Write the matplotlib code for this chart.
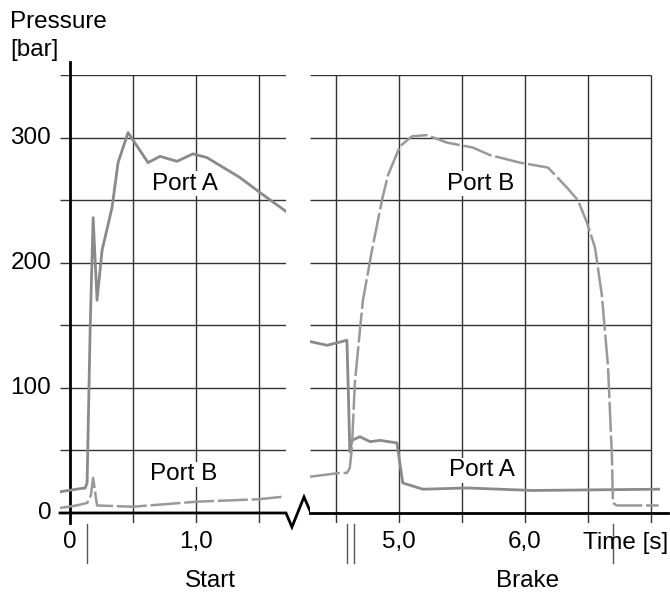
import matplotlib.pyplot as plt
from matplotlib.patches import ConnectionPatch

plt.rcParams['font.family'] = ['Liberation Sans', 'DejaVu Sans']

# start phase (left part of the broken time axis)
t_start_a = [-0.08, 0.05, 0.12, 0.135, 0.16, 0.183, 0.214, 0.254, 0.333, 0.381, 0.46,
             0.619, 0.714, 0.849, 0.976, 1.087, 1.349, 1.508, 1.714]
p_start_a = [17, 19, 20, 24, 150, 236, 170, 210, 244, 280, 304,
             280, 285, 281, 287, 284, 268, 256, 241]
t_start_b = [-0.08, 0.05, 0.135, 0.165, 0.183, 0.214, 0.5, 1.0, 1.5, 1.69]
p_start_b = [4, 6, 8, 14, 28, 6, 5, 9, 11, 13]

# brake phase (right part)
t_brake_a = [4.294, 4.43, 4.587, 4.60, 4.61, 4.627, 4.69, 4.77, 4.85, 4.984,
             5.03, 5.19, 5.54, 6.06, 7.06]
p_brake_a = [137, 134, 138, 90, 49, 58, 61, 57, 58, 56,
             24, 19, 20, 18, 19]
t_brake_b = [4.294, 4.532, 4.587, 4.61, 4.627, 4.65, 4.69, 4.714, 4.786, 4.865, 4.913,
             5.008, 5.103, 5.222, 5.381, 5.587, 5.722, 5.96, 6.183, 6.333, 6.42,
             6.492, 6.556, 6.61, 6.659, 6.69, 6.698, 6.73, 7.06]
p_brake_b = [29, 32, 32, 36, 53, 104, 146, 170, 210, 250, 270,
             293, 301, 302, 296, 292, 286, 280, 276, 260, 250,
             232, 212, 174, 117, 45, 8, 6, 6]

W, H = 670, 592
FS = 17.5
fig = plt.figure(figsize=(W / 100, H / 100), dpi=100)


def px_axes(x0, x1, y0, y1):
    return fig.add_axes([x0 / W, 1 - y1 / H, (x1 - x0) / W, (y1 - y0) / H])


ax1 = px_axes(60, 286, 75, 523)
ax2 = px_axes(310, 668, 75, 523)
ax1.set_xlim(-0.08, 1.714)
ax2.set_xlim(4.294, 7.135)

grid = '#333333'
line_a = '#8a8a8a'
line_b = '#999999'
for ax in (ax1, ax2):
    ax.set_ylim(-8, 350)
    for s in ax.spines.values():
        s.set_visible(False)
    ax.tick_params(length=0, labelsize=FS, pad=6)
    ax.set_yticks([])

ax1.hlines(range(50, 351, 50), -0.08, 1.714, color=grid, lw=1)
ax1.vlines([0.5, 1.0, 1.5], -8, 350, color=grid, lw=1)
ax2.hlines(range(50, 351, 50), 4.294, 7.0, color=grid, lw=1)
ax2.vlines([4.5, 5.0, 5.5, 6.0, 6.5, 7.0], -8, 350, color=grid, lw=1)

# axes lines with the break mark
ax1.plot([-0.08, 1.714, 1.761, 1.857, 1.912], [0, 0, -11.2, 12.8, 0],
         color='black', lw=2, clip_on=False, solid_joinstyle='miter')
ax2.plot([4.294, 7.135], [0, 0], color='black', lw=2, clip_on=False)
ax1.plot([0, 0], [-8, 360], color='black', lw=2, clip_on=False)

# curves
ax1.plot(t_start_a, p_start_a, color=line_a, lw=2)
ax1.plot(t_start_b, p_start_b, color=line_b, lw=1.8, dashes=(12, 1.5))
ax2.plot(t_brake_a, p_brake_a, color=line_a, lw=2)
ax2.plot(t_brake_b, p_brake_b, color=line_b, lw=1.8, dashes=(12, 1.5))

box = dict(fc='white', ec='none', pad=1)
ax1.text(0.91, 263, 'Port A', ha='center', va='center', fontsize=FS, bbox=box)
ax1.text(0.90, 31, 'Port B', ha='center', va='center', fontsize=FS, bbox=box)
ax2.text(5.65, 263, 'Port B', ha='center', va='center', fontsize=FS, bbox=box)
ax2.text(5.66, 34, 'Port A', ha='center', va='center', fontsize=FS, bbox=box)

# tick labels
ax1.set_xticks([0, 1.0], ['0', '1,0'])
ax2.set_xticks([5.0, 6.0], ['5,0', '6,0'])
for y, lab in [(0, '0'), (100, '100'), (200, '200'), (300, '300')]:
    ax1.text(-0.15, y, lab, ha='right', va='center', fontsize=FS)

fig.text(10 / W, 1 - 28 / H, 'Pressure', fontsize=FS, va='baseline')
fig.text(10 / W, 1 - 56 / H, '[bar]', fontsize=FS, va='baseline')
fig.text(668 / W, 1 - 549 / H, 'Time [s]', fontsize=FS, ha='right', va='baseline')

# phase brackets
bc = '#555555'
for axa, xa, axb, xb in [(ax1, 0.135, ax2, 4.587), (ax2, 4.643, ax2, 6.698)]:
    axa.plot([xa, xa], [-8.8, -40], color=bc, lw=1, clip_on=False)
    axb.plot([xb, xb], [-8.8, -40], color=bc, lw=1, clip_on=False)
    con = ConnectionPatch((xa, -40), (xb, -40), 'data', 'data', axesA=axa, axesB=axb,
                          color=bc, lw=1)
    fig.add_artist(con)
fig.text(210 / W, 1 - 587 / H, 'Start', fontsize=FS, ha='center', va='baseline')
fig.text(528 / W, 1 - 587 / H, 'Brake', fontsize=FS, ha='center', va='baseline')

fig.savefig('out.png', dpi=100)
